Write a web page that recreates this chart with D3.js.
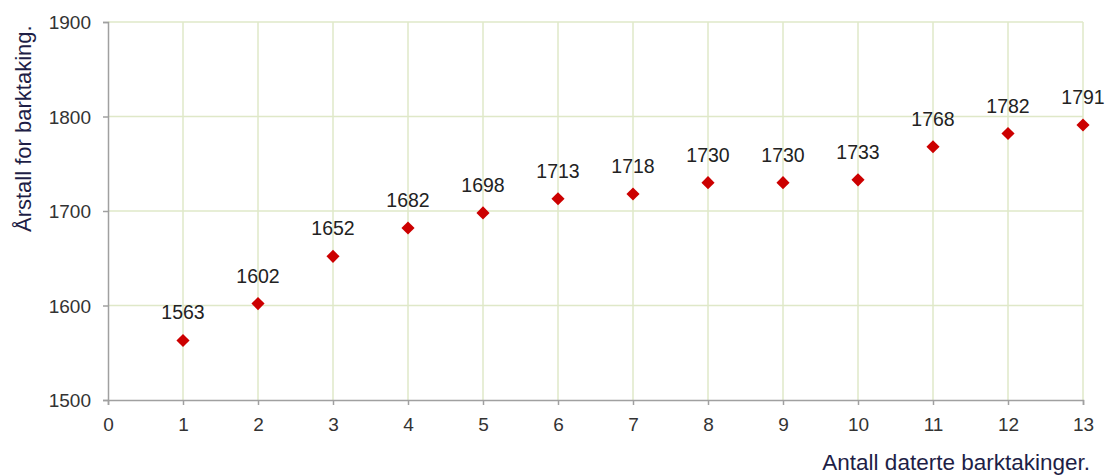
<!DOCTYPE html>
<html>
<head>
<meta charset="utf-8">
<script src="https://d3js.org/d3.v7.min.js"></script>
<style>
  body { margin: 0; background: #fff; }
  text { font-family: "Liberation Sans", Arial, sans-serif; }
</style>
</head>
<body>
<svg id="chart" width="1112" height="475"></svg>
<script>
// values
const counts = [1, 2, 3, 4, 5, 6, 7, 8, 9, 10, 11, 12, 13];
const years = [1563, 1602, 1652, 1682, 1698, 1713, 1718, 1730, 1730, 1733, 1768, 1782, 1791];
const xTicks = d3.range(0, 14);
const yTicks = [1500, 1600, 1700, 1800, 1900];

let svg = d3.select("#chart");

let x = d3.scaleLinear().domain([0, 13]).range([108, 1083]);
let y = d3.scaleLinear().domain([1500, 1900]).range([400, 22]);

// grid
svg.append("g")
    .selectAll("line")
    .data(yTicks.slice(1))
    .enter().append("line")
    .attr("x1", x(0)).attr("x2", x(13))
    .attr("y1", d => y(d)).attr("y2", d => y(d))
    .attr("stroke", "#dfe8c8").attr("stroke-width", 1.5);

svg.append("g")
    .selectAll("line")
    .data(xTicks.slice(1))
    .enter().append("line")
    .attr("x1", d => x(d)).attr("x2", d => x(d))
    .attr("y1", y(1500)).attr("y2", y(1900))
    .attr("stroke", "#dfe8c8").attr("stroke-width", 1.5);

// axes
let xAxis = svg.append("g")
    .attr("transform", "translate(0," + y(1500) + ")")
    .call(d3.axisBottom(x).tickValues(xTicks).tickSize(5).tickPadding(13).tickFormat(d3.format("d")));

let yAxis = svg.append("g")
    .attr("transform", "translate(" + x(0) + ",0)")
    .call(d3.axisLeft(y).tickValues(yTicks).tickSize(5).tickPadding(12).tickFormat(d3.format("d")));

[xAxis, yAxis].forEach(function (a) {
    a.select(".domain").attr("stroke", "#a0a0a0").attr("stroke-width", 1.5);
    a.selectAll(".tick line").attr("stroke", "#a0a0a0").attr("stroke-width", 1.5);
    a.selectAll(".tick text")
        .attr("fill", "#333")
        .style("font-size", "19px")
        .style("font-family", "'Liberation Sans', Arial, sans-serif");
});
yAxis.selectAll(".tick text").attr("dy", "0.35em");

// points
let pts = counts.map((c, i) => ({c: c, v: years[i]}));

svg.append("g")
    .selectAll("path")
    .data(pts)
    .enter().append("path")
    .attr("d", d3.symbol().type(d3.symbolDiamond2).size(110))
    .attr("transform", d => "translate(" + x(d.c) + "," + y(d.v) + ")")
    .attr("fill", "#cc0000");

svg.append("g")
    .selectAll("text")
    .data(pts)
    .enter().append("text")
    .attr("x", d => x(d.c))
    .attr("y", d => y(d.v) - 21)
    .attr("text-anchor", "middle")
    .attr("fill", "#222")
    .style("font-size", "19.5px")
    .text(d => d.v);

// axis titles
svg.append("text")
    .attr("x", 1090)
    .attr("y", 470)
    .attr("text-anchor", "end")
    .attr("fill", "#1e1e46")
    .style("font-size", "22.5px")
    .text("Antall daterte barktakinger.");

svg.append("text")
    .attr("transform", "translate(31,232) rotate(-90)")
    .attr("text-anchor", "start")
    .attr("fill", "#1e1e46")
    .style("font-size", "22px")
    .text("Årstall for barktaking.");
</script>
</body>
</html>
